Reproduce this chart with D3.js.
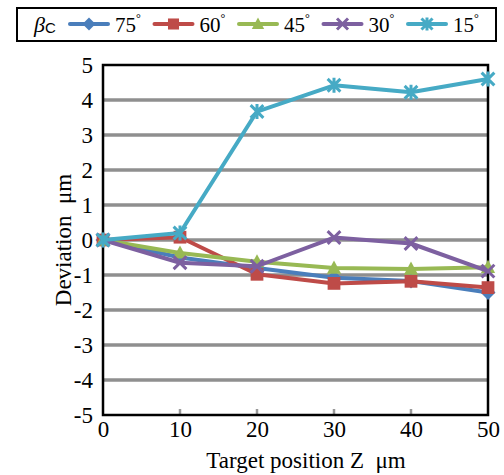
<!DOCTYPE html>
<html>
<head>
<meta charset="utf-8">
<script src="https://cdn.jsdelivr.net/npm/d3@7"></script>
<style>
  body { margin: 0; background: #fff; }
  text { font-family: "Liberation Serif", "Times New Roman", serif; }
</style>
</head>
<body>
<script>
// data
const positions = [0, 10, 20, 30, 40, 50];
const angles = ["75", "60", "45", "30", "15"];
const dev75 = [0, -0.5, -0.8, -1.08, -1.17, -1.5];
const dev60 = [0, 0.08, -0.98, -1.24, -1.18, -1.36];
const dev45 = [0, -0.37, -0.62, -0.8, -0.83, -0.78];
const dev30 = [0, -0.65, -0.75, 0.07, -0.1, -0.89];
const dev15 = [0, 0.2, 3.67, 4.42, 4.22, 4.6];
const yTicks = [-5, -4, -3, -2, -1, 0, 1, 2, 3, 4, 5];
const xTicks = [0, 10, 20, 30, 40, 50];

const seriesValues = [dev75, dev60, dev45, dev30, dev15];
const colors = ["#4a7ebb", "#be4b48", "#98b954", "#7d60a0", "#46aac5"];
const shapes = ["diamond", "square", "triangle", "x", "star"];

const width = 504, height = 475;
const margin = { top: 65, right: 16, bottom: 60, left: 103 };
const serif = "Liberation Serif";

const svg = d3.select("body").append("svg")
    .attr("width", width)
    .attr("height", height);

const x = d3.scaleLinear().domain([0, 50]).range([margin.left, width - margin.right]);
const y = d3.scaleLinear().domain([-5, 5]).range([height - margin.bottom, margin.top]);

// gridlines
svg.append("g")
    .selectAll("line")
    .data(yTicks.filter(t => t > -5 && t < 5))
    .enter().append("line")
    .attr("x1", x(0)).attr("x2", x(50))
    .attr("y1", d => y(d)).attr("y2", d => y(d))
    .attr("stroke", "#8f8f8f")
    .attr("stroke-width", 3.5);

// small inner ticks on the bottom axis
svg.append("g")
    .selectAll("line")
    .data(xTicks.filter(t => t > 0 && t < 50))
    .enter().append("line")
    .attr("x1", d => x(d)).attr("x2", d => x(d))
    .attr("y1", y(-5)).attr("y2", y(-5) - 6)
    .attr("stroke", "#999")
    .attr("stroke-width", 2.5);

// frame
svg.append("rect")
    .attr("x", x(0)).attr("y", y(5))
    .attr("width", x(50) - x(0)).attr("height", y(-5) - y(5))
    .attr("fill", "none")
    .attr("stroke", "#000")
    .attr("stroke-width", 2.5);

// tick labels (hyphen minus, as in the original)
const fmt = d => String(d);

svg.append("g")
    .attr("transform", `translate(${x(0)},0)`)
    .call(d3.axisLeft(y).tickValues(yTicks).tickFormat(fmt).tickSize(0).tickPadding(10))
    .attr("font-family", serif)
    .attr("font-size", 23)
    .call(g => g.select(".domain").remove())
    .call(g => g.selectAll("text").attr("fill", "#000"));

svg.append("g")
    .attr("transform", `translate(0,${y(-5)})`)
    .call(d3.axisBottom(x).tickValues(xTicks).tickFormat(fmt).tickSize(0).tickPadding(6))
    .attr("font-family", serif)
    .attr("font-size", 23)
    .call(g => g.select(".domain").remove())
    .call(g => g.selectAll("text").attr("fill", "#000"));

// axis titles
svg.append("text")
    .attr("x", 306).attr("y", 468)
    .attr("text-anchor", "middle")
    .attr("font-family", serif)
    .attr("font-size", 23)
    .text("Target position Z\u00a0\u00a0\u03bcm");

svg.append("text")
    .attr("transform", `translate(71,${y(0)}) rotate(-90)`)
    .attr("text-anchor", "middle")
    .attr("font-family", serif)
    .attr("font-size", 23)
    .text("Deviation\u00a0\u00a0\u03bcm");

function marker(g, shape, color, size) {
    const s = size;
    if (shape === "diamond") {
        g.append("path").attr("d", `M0,${-s}L${s},0L0,${s}L${-s},0Z`).attr("fill", color);
    } else if (shape === "square") {
        g.append("rect").attr("x", -s * 0.85).attr("y", -s * 0.85)
            .attr("width", s * 1.7).attr("height", s * 1.7).attr("fill", color);
    } else if (shape === "triangle") {
        g.append("path").attr("d", `M0,${-s}L${s * 0.95},${s * 0.75}L${-s * 0.95},${s * 0.75}Z`).attr("fill", color);
    } else {
        const r = s * 0.85;
        let d = `M${-r},${-r}L${r},${r}M${-r},${r}L${r},${-r}`;
        if (shape === "star") d += `M0,${-s}L0,${s}`;
        g.append("path").attr("d", d).attr("stroke", color).attr("stroke-width", 3).attr("fill", "none");
    }
}

const line = d3.line().x((d, i) => x(positions[i])).y(d => y(d));

seriesValues.forEach((vals, k) => {
    const g = svg.append("g");
    g.append("path")
        .attr("d", line(vals))
        .attr("fill", "none")
        .attr("stroke", colors[k])
        .attr("stroke-width", 4)
        .attr("stroke-linejoin", "round");
    g.selectAll("g.pt")
        .data(vals)
        .enter().append("g")
        .attr("class", "pt")
        .attr("transform", (d, i) => `translate(${x(positions[i])},${y(d)})`)
        .each(function () { marker(d3.select(this), shapes[k], colors[k], 7.5); });
});

// legend
const legend = svg.append("g").attr("font-family", serif);
legend.append("rect")
    .attr("x", 17).attr("y", 8)
    .attr("width", 479).attr("height", 33)
    .attr("fill", "#fff")
    .attr("stroke", "#000")
    .attr("stroke-width", 2);

const beta = legend.append("text").attr("x", 34).attr("y", 32).attr("font-size", 22);
beta.append("tspan").attr("font-style", "italic").text("\u03b2");
beta.append("tspan").attr("font-size", 15).attr("dy", 1).attr("font-family", "Liberation Sans").text("C");

const legendX = d3.scalePoint().domain(angles).range([70, 408]);
angles.forEach((a, k) => {
    const lx = legendX(a);
    const item = legend.append("g");
    item.append("line")
        .attr("x1", lx).attr("x2", lx + 38)
        .attr("y1", 24).attr("y2", 24)
        .attr("stroke", colors[k])
        .attr("stroke-width", 4)
        .attr("stroke-linecap", "round");
    marker(item.append("g").attr("transform", `translate(${lx + 19},24)`), shapes[k], colors[k], 6.5);
    const t = item.append("text").attr("x", lx + 45).attr("y", 32).attr("font-size", 21);
    t.append("tspan").text(a);
    t.append("tspan").attr("font-size", 12).attr("dy", -10).text("\u00b0");
});
</script>
</body>
</html>
